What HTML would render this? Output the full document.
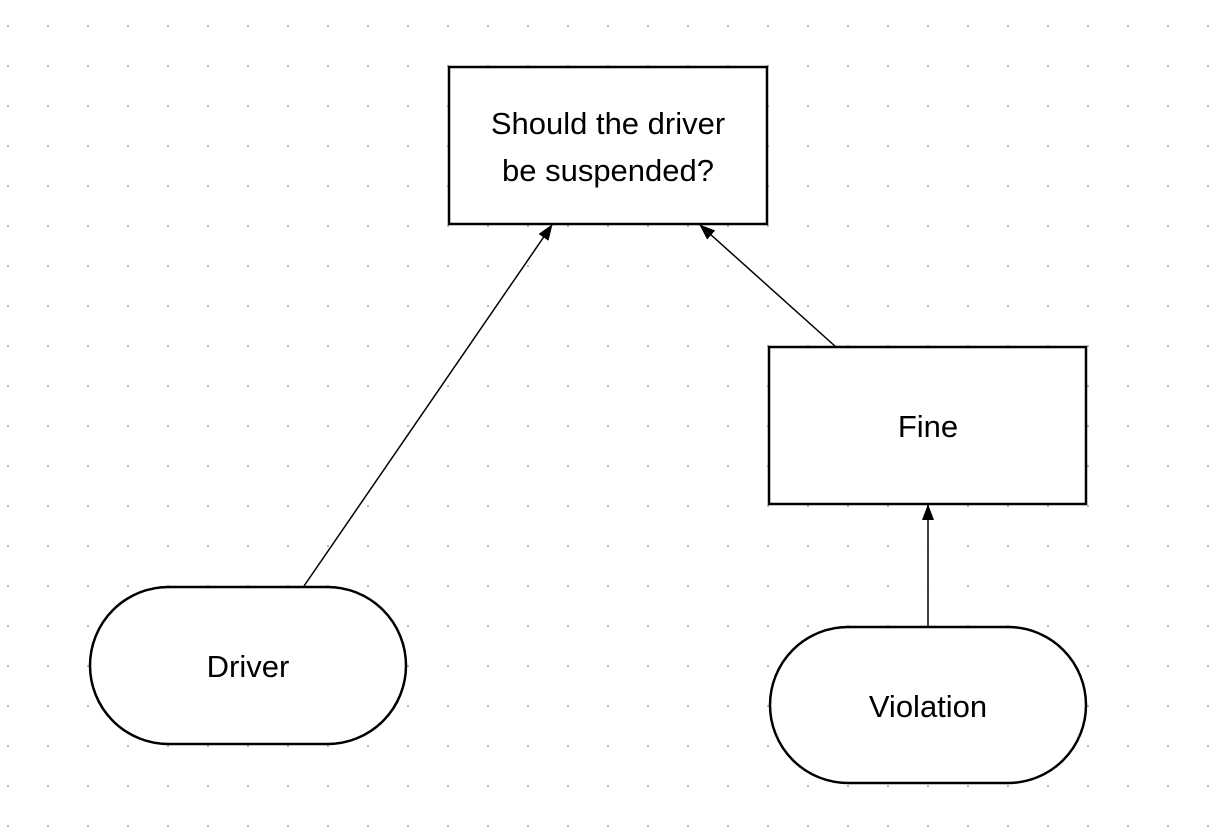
<!DOCTYPE html>
<html><head><style>
html,body{margin:0;padding:0;background:#fff;}
body{width:1210px;height:834px;overflow:hidden;
background-image:radial-gradient(circle,#aaa 0.9px,transparent 1.1px);
background-size:40px 40px;background-position:-12px 6px;}
</style></head><body>
<svg width="1210" height="834" style="position:absolute;left:0;top:0" font-family="Liberation Sans, Arial, sans-serif">
<defs>
<marker id="b" markerWidth="16" markerHeight="16" refX="15" refY="8" orient="auto" markerUnits="userSpaceOnUse" viewBox="0 0 16 16"><path d="M0,2 L16,8 L0,14 z" fill="#000"/></marker></defs>
<rect x="449" y="67" width="318" height="157" fill="#fff" stroke="#000" stroke-width="2.5"/>
<text x="608" y="134" font-size="31" text-anchor="middle">Should the driver</text>
<text x="608" y="181" font-size="31" text-anchor="middle">be suspended?</text>
<rect x="769" y="347" width="317" height="157" fill="#fff" stroke="#000" stroke-width="2.5"/>
<text x="928" y="437" font-size="31" text-anchor="middle">Fine</text>
<rect x="90" y="587" width="316" height="157" rx="78.5" fill="#fff" stroke="#000" stroke-width="2.5"/>
<text x="248" y="677" font-size="31" text-anchor="middle">Driver</text>
<rect x="770" y="627" width="316" height="156" rx="78" fill="#fff" stroke="#000" stroke-width="2.5"/>
<text x="928" y="717" font-size="31" text-anchor="middle">Violation</text>
<line x1="304" y1="586" x2="552" y2="225" stroke="#000" stroke-width="1.5" marker-end="url(#b)"/>
<line x1="836" y1="347" x2="700" y2="225" stroke="#000" stroke-width="1.5" marker-end="url(#b)"/>
<line x1="928" y1="627" x2="928" y2="505" stroke="#000" stroke-width="1.5" marker-end="url(#b)"/>
</svg>
</body></html>
